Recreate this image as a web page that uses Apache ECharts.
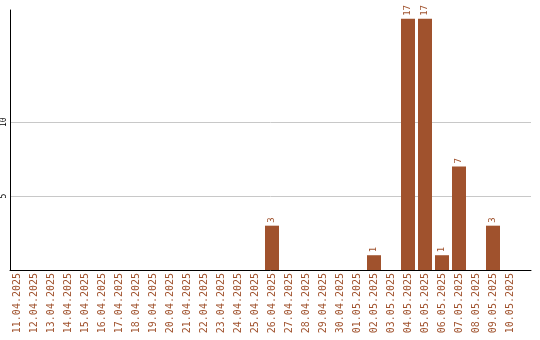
<!DOCTYPE html>
<html><head><meta charset="utf-8">
<script src="https://cdn.jsdelivr.net/npm/echarts@6/dist/echarts.min.js"></script>
<style>html,body{margin:0;padding:0;background:#fff}#c{width:540px;height:340px}</style>
</head><body><div id="c"></div>
<script>
const categories = ['11.04.2025','12.04.2025','13.04.2025','14.04.2025','15.04.2025','16.04.2025','17.04.2025','18.04.2025','19.04.2025','20.04.2025','21.04.2025','22.04.2025','23.04.2025','24.04.2025','25.04.2025','26.04.2025','27.04.2025','28.04.2025','29.04.2025','30.04.2025','01.05.2025','02.05.2025','03.05.2025','04.05.2025','05.05.2025','06.05.2025','07.05.2025','08.05.2025','09.05.2025','10.05.2025'];
const values = [0,0,0,0,0,0,0,0,0,0,0,0,0,0,0,3,0,0,0,0,0,1,0,17,17,1,7,0,3,0];
const yTicks = [5,10];

const chart = echarts.init(document.getElementById('c'));
const gridLeft = 10, gridRight = 9, width = 540 - gridLeft - gridRight;
const band = 17, firstCenterOffset = 7; // px
const xMin = -firstCenterOffset / band;
const xMax = xMin + width / band;
const idx = categories.map((_, i) => i);
const COLOR = '#a0522d';
chart.setOption({
  animation: false,
  grid: {left: gridLeft, right: gridRight, top: 10, bottom: 70, containLabel: false},
  xAxis: {
    type: 'value', min: xMin, max: xMax,
    axisLine: {show: true, onZero: false, lineStyle: {color: '#000', width: 1}},
    axisTick: {show: false},
    splitLine: {show: false},
    axisLabel: {
      customValues: idx, rotate: 90, margin: 3,
      color: COLOR, fontFamily: 'DejaVu Sans Mono', fontSize: 10,
      formatter: v => categories[Math.round(v)] || ''
    }
  },
  yAxis: {
    type: 'value', min: 0, max: 17.6,
    axisLine: {show: true, onZero: false, lineStyle: {color: '#000', width: 1}},
    axisTick: {show: false, customValues: yTicks},
    splitLine: {show: true, lineStyle: {color: '#c8c8c8', width: 1}},
    axisLabel: {
      customValues: yTicks, rotate: 90, margin: 2,
      color: '#000', fontFamily: 'DejaVu Sans Mono', fontSize: 8
    }
  },
  series: [{
    type: 'bar',
    data: values.map((v, i) => v > 0 ? [i, v] : null).filter(Boolean),
    barWidth: 14,
    itemStyle: {color: COLOR},
    label: {
      show: true, position: 'top', rotate: 90, align: 'left', verticalAlign: 'middle',
      distance: 3, color: COLOR, fontFamily: 'DejaVu Sans Mono', fontSize: 9,
      formatter: p => String(p.value[1])
    }
  }]
});
</script></body></html>
